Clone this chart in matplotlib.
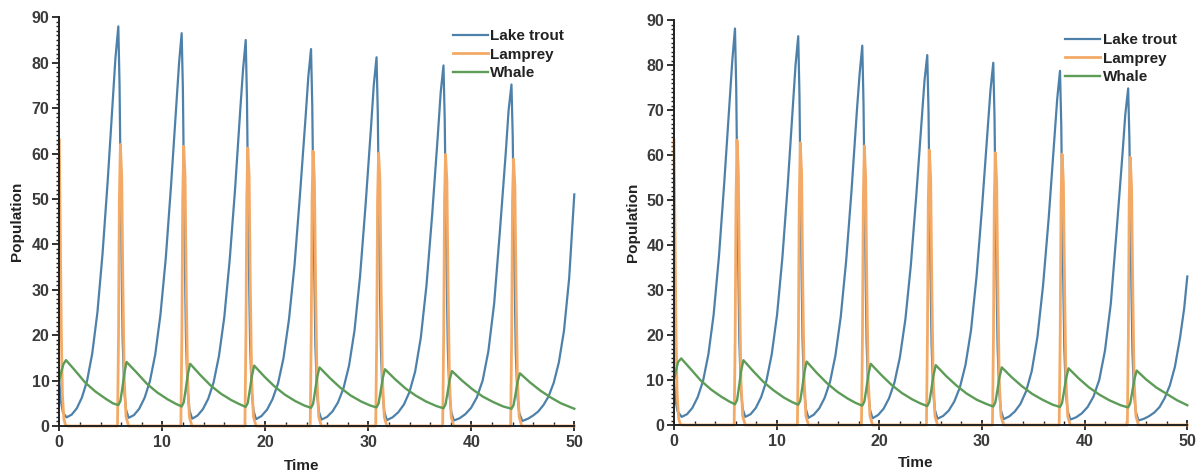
import numpy as np
import matplotlib
matplotlib.use("Agg")
import matplotlib.pyplot as plt
from matplotlib.ticker import MultipleLocator

plt.rcParams['font.family'] = ['Liberation Sans', 'DejaVu Sans']
plt.rcParams['font.weight'] = 'bold'

series_names = ["Lake trout", "Lamprey", "Whale"]
colors = ["#4e81aa", "#f3aa66", "#5c9c57"]
line_widths = [1.6, 2.0, 1.7]

# ---------------- Left panel ----------------
trout_left = [
    (0, 10), (0.15, 5.5), (0.35, 3.0), (0.7, 1.9),
    (1.2, 2.5), (1.7, 3.9), (2.2, 6.3), (2.7, 10), (3.2, 16), (3.7, 25), (4.2, 38), (4.7, 54), (5.2, 72), (5.45, 81), (5.73, 88),
    (5.85, 75), (6.0, 44), (6.15, 19), (6.3, 8), (6.48, 3.6), (6.73, 1.8),
    (7.25, 2.4), (7.76, 3.8), (8.28, 6.2), (8.79, 9.8), (9.31, 15.7), (9.82, 24.5), (10.34, 37), (10.85, 53), (11.37, 71), (11.63, 80), (11.88, 86.5),
    (12.0, 74), (12.15, 43), (12.3, 19), (12.45, 8), (12.63, 3.5), (12.9, 1.6),
    (13.42, 2.3), (13.94, 3.7), (14.46, 6.0), (14.98, 9.6), (15.5, 15.4), (16.02, 24), (16.54, 36.5), (17.06, 52), (17.58, 70), (17.84, 78.5), (18.1, 85),
    (18.22, 72), (18.37, 42), (18.52, 18.5), (18.67, 7.8), (18.85, 3.4), (19.1, 1.5),
    (19.63, 2.2), (20.17, 3.6), (20.7, 5.9), (21.24, 9.4), (21.77, 15), (22.3, 23.5), (22.84, 35.5), (23.37, 51), (23.91, 68), (24.18, 77), (24.44, 83),
    (24.56, 70.5), (24.71, 41.5), (24.86, 18), (25.01, 7.6), (25.19, 3.3), (25.45, 1.4),
    (25.99, 2.0), (26.52, 3.2), (27.06, 5.2), (27.59, 8.3), (28.13, 13.3), (28.66, 21), (29.2, 33), (29.73, 48.5), (30.27, 66), (30.53, 75), (30.8, 81.2),
    (30.92, 69), (31.07, 40.5), (31.22, 17.5), (31.37, 7.4), (31.55, 3.2), (31.8, 1.3),
    (32.35, 1.9), (32.9, 3.0), (33.45, 4.7), (34.0, 7.5), (34.55, 12), (35.1, 19.5), (35.65, 31), (36.2, 46.5), (36.75, 64), (37.03, 73.5), (37.3, 79.4),
    (37.42, 67.5), (37.57, 39.5), (37.72, 17), (37.87, 7.2), (38.05, 3.1), (38.3, 1.2),
    (38.86, 1.7), (39.42, 2.6), (39.98, 4.0), (40.54, 6.3), (41.1, 10), (41.66, 16.5), (42.22, 27), (42.78, 43), (43.34, 60), (43.62, 69.5), (43.9, 75.2),
    (44.02, 64), (44.17, 37.5), (44.32, 16), (44.47, 6.8), (44.65, 2.9), (44.95, 1.1),
    (45.5, 1.6), (46.0, 2.3), (46.5, 3.2), (47.0, 4.6), (47.5, 6.5), (48.0, 9.5), (48.5, 14), (49.0, 21), (49.5, 32.5), (50.0, 51),
]

lamprey_left = [
    (0, 63), (0.1, 42), (0.2, 20), (0.3, 7), (0.45, 1.5), (0.6, 0.2), (0.8, 0),
    (5.65, 0), (5.75, 20), (5.83, 50), (5.93, 62), (6.06, 55), (6.18, 30), (6.31, 10), (6.48, 2), (6.73, 0),
    (11.8, 0), (11.9, 20), (11.98, 50), (12.08, 61.6), (12.21, 55), (12.33, 30), (12.46, 10), (12.63, 2), (12.88, 0),
    (18.02, 0), (18.12, 20), (18.2, 50), (18.3, 61.2), (18.43, 55), (18.55, 30), (18.68, 10), (18.85, 2), (19.1, 0),
    (24.36, 0), (24.46, 20), (24.54, 50), (24.64, 60.5), (24.77, 54), (24.89, 30), (25.02, 10), (25.19, 2), (25.44, 0),
    (30.72, 0), (30.82, 20), (30.9, 50), (31.0, 60.1), (31.13, 54), (31.25, 30), (31.38, 10), (31.55, 2), (31.8, 0),
    (37.22, 0), (37.32, 20), (37.4, 50), (37.5, 59.8), (37.63, 54), (37.75, 30), (37.88, 10), (38.05, 2), (38.3, 0),
    (43.82, 0), (43.92, 20), (44.0, 50), (44.1, 58.8), (44.23, 53), (44.35, 30), (44.48, 10), (44.65, 2), (44.9, 0),
    (50.0, 0),
]

whale_left = [
    (0, 10), (0.2, 12), (0.4, 13.6), (0.65, 14.5), (1.5, 12.3), (2.5, 9.6), (3.5, 7.6), (4.5, 6.0), (5.2, 5.0), (5.73, 4.6),
    (5.93, 5.5), (6.13, 8.5), (6.33, 11.8), (6.53, 14.1),
    (7.5, 11.8), (8.5, 9.3), (9.5, 7.4), (10.5, 5.9), (11.3, 4.9), (11.88, 4.3),
    (12.08, 5.2), (12.28, 8.2), (12.48, 11.4), (12.7, 13.7),
    (13.7, 11.2), (14.7, 8.9), (15.7, 7.1), (16.7, 5.7), (17.5, 4.8), (18.1, 4.2),
    (18.3, 5.1), (18.5, 8.0), (18.7, 11.0), (18.92, 13.3),
    (19.9, 10.9), (20.9, 8.7), (21.9, 6.9), (22.9, 5.5), (23.8, 4.5), (24.44, 4.0),
    (24.64, 4.9), (24.84, 7.8), (25.04, 10.8), (25.26, 12.9),
    (26.3, 10.5), (27.3, 8.4), (28.3, 6.7), (29.3, 5.4), (30.2, 4.5), (30.8, 4.1),
    (31.0, 5.0), (31.2, 7.7), (31.4, 10.5), (31.62, 12.5),
    (32.6, 10.3), (33.6, 8.3), (34.6, 6.7), (35.6, 5.4), (36.6, 4.4), (37.3, 3.9),
    (37.5, 4.8), (37.7, 7.4), (37.9, 10.2), (38.12, 12.1),
    (39.1, 10.0), (40.1, 8.1), (41.1, 6.5), (42.1, 5.3), (43.1, 4.3), (43.9, 3.8),
    (44.1, 4.6), (44.3, 7.1), (44.5, 9.8), (44.72, 11.6),
    (45.7, 9.6), (46.7, 7.8), (47.7, 6.3), (48.7, 5.0), (50.0, 3.8),
]

# ---------------- Right panel ----------------
trout_right = [
    (0, 10), (0.15, 5.5), (0.35, 3.0), (0.75, 1.8),
    (1.27, 2.4), (1.79, 3.8), (2.31, 6.2), (2.83, 9.8), (3.35, 15.7), (3.86, 24.5), (4.38, 37.5), (4.9, 54), (5.42, 72), (5.68, 81), (5.94, 88.1),
    (6.06, 75), (6.21, 44), (6.36, 19), (6.51, 8), (6.69, 3.6), (6.94, 1.8),
    (7.46, 2.4), (7.97, 3.8), (8.49, 6.2), (9.0, 9.8), (9.52, 15.7), (10.04, 24.5), (10.55, 37), (11.07, 53), (11.58, 71), (11.84, 80), (12.1, 86.4),
    (12.22, 73.5), (12.37, 43), (12.52, 19), (12.67, 8), (12.85, 3.5), (13.1, 1.6),
    (13.62, 2.3), (14.15, 3.7), (14.67, 6.0), (15.2, 9.6), (15.72, 15.4), (16.24, 24), (16.77, 36.5), (17.29, 52), (17.82, 70), (18.08, 78), (18.34, 84.3),
    (18.46, 71.5), (18.61, 42), (18.76, 18.5), (18.91, 7.8), (19.09, 3.4), (19.34, 1.5),
    (19.87, 2.2), (20.41, 3.6), (20.94, 5.9), (21.47, 9.4), (22.0, 15), (22.54, 23.5), (23.07, 35.5), (23.6, 51), (24.14, 68), (24.4, 76.5), (24.67, 82.2),
    (24.79, 70), (24.94, 41), (25.09, 18), (25.24, 7.6), (25.42, 3.3), (25.67, 1.4),
    (26.21, 2.0), (26.76, 3.2), (27.3, 5.2), (27.84, 8.3), (28.39, 13.3), (28.93, 21), (29.47, 33), (30.01, 48.5), (30.56, 66), (30.83, 74.5), (31.1, 80.5),
    (31.22, 68.5), (31.37, 40), (31.52, 17.5), (31.67, 7.4), (31.85, 3.2), (32.1, 1.3),
    (32.65, 1.9), (33.2, 3.0), (33.75, 4.7), (34.3, 7.5), (34.85, 12), (35.4, 19.5), (35.95, 31), (36.5, 46), (37.05, 63.5), (37.33, 72.5), (37.6, 78.7),
    (37.72, 67), (37.87, 39), (38.02, 17), (38.17, 7.2), (38.35, 3.1), (38.6, 1.2),
    (39.16, 1.7), (39.73, 2.6), (40.29, 4.0), (40.86, 6.3), (41.42, 10), (41.98, 16.5), (42.55, 27), (43.11, 43), (43.68, 60), (43.96, 69), (44.24, 74.8),
    (44.36, 63.5), (44.51, 37.5), (44.66, 16), (44.81, 6.8), (44.99, 2.9), (45.24, 1.0),
    (45.8, 1.4), (46.3, 2.0), (46.8, 2.8), (47.3, 4.0), (47.8, 6.0), (48.3, 8.8), (48.8, 13), (49.3, 19.5), (49.7, 26), (50.0, 33),
]

lamprey_right = [
    (0, 63.3), (0.1, 42), (0.2, 20), (0.3, 7), (0.45, 1.5), (0.6, 0.2), (0.8, 0),
    (5.86, 0), (5.96, 20), (6.04, 50), (6.14, 63.3), (6.27, 56), (6.39, 30), (6.52, 10), (6.69, 2), (6.94, 0),
    (12.02, 0), (12.12, 20), (12.2, 50), (12.3, 62.7), (12.43, 56), (12.55, 30), (12.68, 10), (12.85, 2), (13.1, 0),
    (18.26, 0), (18.36, 20), (18.44, 50), (18.54, 62.0), (18.67, 55), (18.79, 30), (18.92, 10), (19.09, 2), (19.34, 0),
    (24.59, 0), (24.69, 20), (24.77, 50), (24.87, 61.1), (25.0, 55), (25.12, 30), (25.25, 10), (25.42, 2), (25.67, 0),
    (31.02, 0), (31.12, 20), (31.2, 50), (31.3, 60.5), (31.43, 54), (31.55, 30), (31.68, 10), (31.85, 2), (32.1, 0),
    (37.52, 0), (37.62, 20), (37.7, 50), (37.8, 60.2), (37.93, 54), (38.05, 30), (38.18, 10), (38.35, 2), (38.6, 0),
    (44.16, 0), (44.26, 20), (44.34, 50), (44.44, 59.5), (44.57, 53), (44.69, 30), (44.82, 10), (44.99, 2), (45.24, 0),
    (50.0, 0),
]

whale_right = [
    (0, 10), (0.2, 12.2), (0.4, 14.0), (0.7, 14.8), (1.6, 12.5), (2.6, 9.9), (3.6, 7.9), (4.6, 6.3), (5.4, 5.2), (5.94, 4.6),
    (6.14, 5.5), (6.34, 8.6), (6.54, 12.0), (6.76, 14.4),
    (7.7, 12.0), (8.7, 9.6), (9.7, 7.7), (10.7, 6.1), (11.5, 5.1), (12.1, 4.5),
    (12.3, 5.4), (12.5, 8.4), (12.7, 11.7), (12.92, 14.1),
    (13.9, 11.6), (14.9, 9.3), (15.9, 7.4), (16.9, 5.9), (17.7, 4.9), (18.34, 4.3),
    (18.54, 5.2), (18.74, 8.1), (18.94, 11.3), (19.16, 13.6),
    (20.2, 11.1), (21.2, 8.9), (22.2, 7.1), (23.2, 5.7), (24.0, 4.8), (24.67, 4.2),
    (24.87, 5.1), (25.07, 7.9), (25.27, 11.0), (25.5, 13.3),
    (26.5, 10.9), (27.5, 8.8), (28.5, 7.0), (29.5, 5.6), (30.4, 4.7), (31.1, 4.1),
    (31.3, 5.0), (31.5, 7.7), (31.7, 10.6), (31.93, 12.8),
    (32.9, 10.6), (33.9, 8.6), (34.9, 6.9), (35.9, 5.6), (36.9, 4.5), (37.6, 4.0),
    (37.8, 4.9), (38.0, 7.6), (38.2, 10.4), (38.43, 12.6),
    (39.4, 10.4), (40.4, 8.4), (41.4, 6.8), (42.4, 5.5), (43.5, 4.4), (44.24, 3.9),
    (44.44, 4.8), (44.64, 7.4), (44.84, 10.1), (45.07, 12.1),
    (46.0, 10.1), (47.0, 8.3), (48.0, 6.9), (49.0, 5.5), (50.0, 4.4),
]

x_ticks = [0, 10, 20, 30, 40, 50]
y_ticks = [0, 10, 20, 30, 40, 50, 60, 70, 80, 90]

W, H = 1203, 476
fig = plt.figure(figsize=(W / 100, H / 100), dpi=100)

panels = [
    dict(rect=(59.3, 426, 574.3, 17.3), data=[trout_left, lamprey_left, whale_left],
         legend=(0.764, 0.971), xlabel_y=-0.081, ylabel_x=-0.069),
    dict(rect=(674, 425, 1187.3, 20), data=[trout_right, lamprey_right, whale_right],
         legend=(0.762, 0.968), xlabel_y=-0.077, ylabel_x=-0.066),
]

for p in panels:
    x0, y0, x1, y1 = p['rect']
    ax = fig.add_axes([x0 / W, (H - y0) / H, (x1 - x0) / W, (y0 - y1) / H])
    for name, col, lw, ser in zip(series_names, colors, line_widths, p['data']):
        arr = np.array(ser, dtype=float)
        ax.plot(arr[:, 0], arr[:, 1], color=col, lw=lw, label=name,
                solid_joinstyle='round', clip_on=False)
    ax.set_xlim(0, 50)
    ax.set_ylim(0, 90)
    ax.set_xticks(x_ticks)
    ax.set_yticks(y_ticks)
    ax.xaxis.set_minor_locator(MultipleLocator(2))
    ax.yaxis.set_minor_locator(MultipleLocator(1))
    for s in ['top', 'right']:
        ax.spines[s].set_visible(False)
    for s in ['left', 'bottom']:
        ax.spines[s].set_linewidth(1.4)
        ax.spines[s].set_color('#222222')
    ax.tick_params(axis='y', which='major', direction='out', length=5, width=1.3,
                   labelsize=11.5, pad=2, colors='#222222')
    ax.tick_params(axis='y', which='minor', direction='out', length=2.5, width=1.0,
                   colors='#222222')
    ax.tick_params(axis='x', which='major', direction='inout', length=7, width=1.3,
                   labelsize=11.5, pad=3, colors='#222222')
    ax.tick_params(axis='x', which='minor', direction='in', length=3, width=1.0,
                   colors='#222222')
    for lbl in ax.get_xticklabels() + ax.get_yticklabels():
        lbl.set_fontweight('bold')
        lbl.set_color('#3a3a3a')
    ax.set_ylabel('Population', fontsize=11, fontweight='bold', color='#222222')
    ax.set_xlabel('Time', fontsize=11, fontweight='bold', color='#222222')
    ax.yaxis.set_label_coords(p['ylabel_x'], 0.5)
    ax.xaxis.set_label_coords(0.47, p['xlabel_y'])
    leg = ax.legend(loc='upper left', bbox_to_anchor=p['legend'], frameon=False,
                    fontsize=11, handlelength=2.3, handletextpad=0.15,
                    labelspacing=0.3, borderpad=0, borderaxespad=0)
    for t in leg.get_texts():
        t.set_fontweight('bold')
        t.set_color('#222222')

fig.savefig('out.png', dpi=100)
